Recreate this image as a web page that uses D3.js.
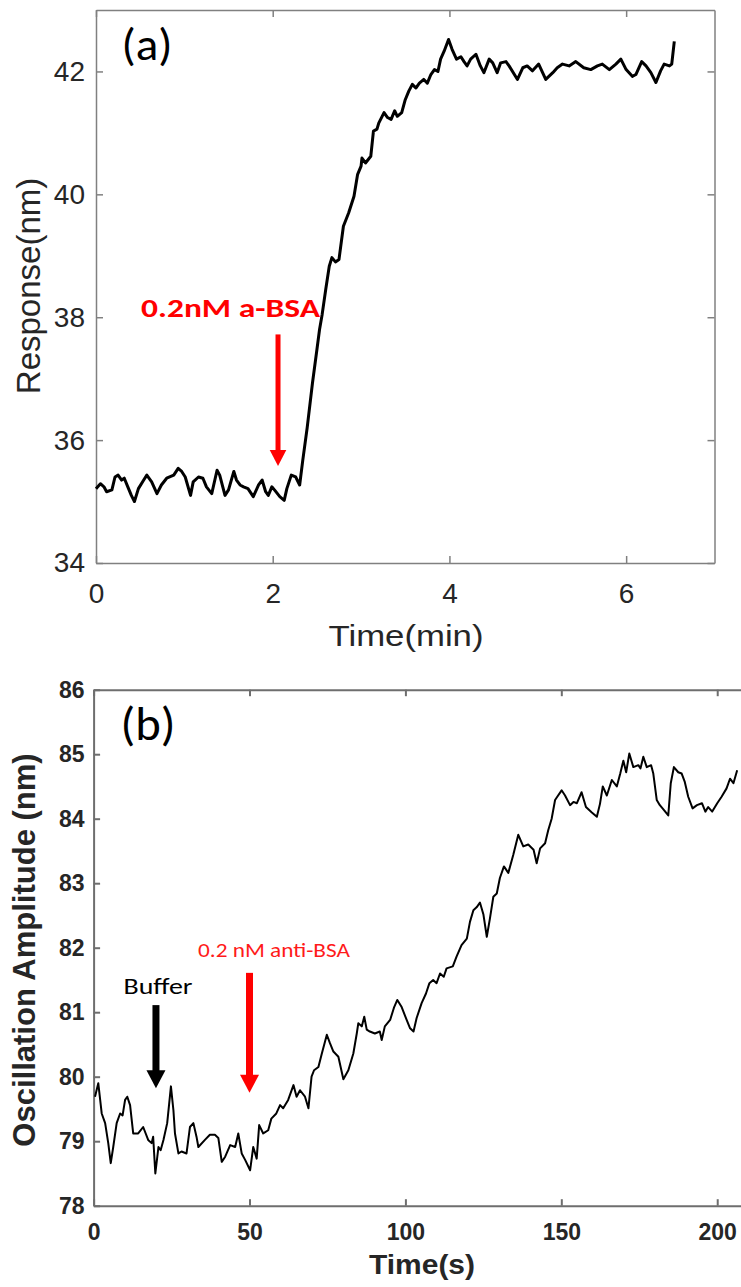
<!DOCTYPE html>
<html>
<head>
<meta charset="utf-8">
<title>Response traces</title>
<script src="https://cdn.jsdelivr.net/npm/d3@7"></script>
<style>
  body { margin: 0; background: #fff; }
  svg { display: block; }
</style>
</head>
<body>
<div id="chart"></div>
<script>
// panel (a): time in minutes, response in nm
var timeA = [0.00,0.05,0.09,0.12,0.18,0.215,0.25,0.29,0.32,0.36,0.40,0.435,0.48,0.54,0.575,0.63,0.69,0.74,0.80,0.88,0.93,0.97,1.01,1.07,1.10,1.16,1.21,1.25,1.31,1.37,1.40,1.46,1.50,1.56,1.59,1.63,1.67,1.72,1.78,1.84,1.88,1.92,1.95,1.99,2.02,2.08,2.13,2.16,2.21,2.26,2.305,2.34,2.39,2.45,2.50,2.53,2.56,2.60,2.64,2.67,2.71,2.75,2.80,2.86,2.92,2.96,3.00,3.01,3.05,3.11,3.14,3.18,3.20,3.26,3.30,3.34,3.38,3.41,3.46,3.50,3.54,3.58,3.62,3.66,3.71,3.75,3.79,3.83,3.87,3.90,3.94,3.99,4.03,4.08,4.13,4.165,4.20,4.24,4.30,4.35,4.39,4.45,4.49,4.54,4.58,4.64,4.675,4.77,4.83,4.88,4.94,5.01,5.09,5.17,5.22,5.28,5.355,5.43,5.52,5.60,5.675,5.73,5.81,5.884,5.94,6.00,6.07,6.11,6.176,6.225,6.28,6.337,6.39,6.43,6.49,6.516,6.545];
var respA = [35.21,35.29,35.24,35.16,35.19,35.40,35.43,35.35,35.38,35.24,35.10,35.00,35.21,35.35,35.43,35.32,35.13,35.27,35.38,35.43,35.54,35.49,35.40,35.10,35.32,35.40,35.38,35.24,35.13,35.51,35.43,35.10,35.19,35.49,35.35,35.27,35.24,35.21,35.08,35.27,35.35,35.16,35.10,35.24,35.19,35.08,35.02,35.21,35.43,35.40,35.27,35.67,36.20,36.93,37.47,37.80,38.05,38.45,38.83,38.97,38.90,38.94,39.48,39.70,39.97,40.32,40.46,40.59,40.51,40.62,41.03,41.06,41.16,41.33,41.25,41.22,41.36,41.27,41.33,41.54,41.68,41.79,41.73,41.81,41.87,41.81,41.95,42.03,42.00,42.20,42.33,42.52,42.36,42.20,42.24,42.16,42.09,42.20,42.28,42.09,41.98,42.20,42.14,41.98,42.14,42.16,42.09,41.87,42.06,42.09,42.01,42.12,41.87,41.98,42.06,42.12,42.09,42.16,42.06,42.03,42.09,42.12,42.03,42.12,42.20,42.03,41.92,41.95,42.16,42.09,41.98,41.82,42.01,42.12,42.09,42.12,42.49];
var ticksAx = [0, 2, 4, 6];
var ticksAy = [34, 36, 38, 40, 42];

// panel (b): time in seconds, oscillation amplitude in nm
var timeB = [0.45,1.5,2.6,3.7,4.7,5.5,6.3,7.4,8.5,9.3,10.1,10.8,11.7,12.7,14.3,15.9,17.5,18.6,19.1,19.8,20.8,21.5,22.4,23.6,24.8,25.6,26.1,27.2,28.2,29.8,30.9,32,33,33.6,35.7,37.3,38.9,40,41.1,42.2,43.8,45.4,46.4,47.5,48.6,50.2,51.2,52.3,53.1,54.4,56,57,58.6,59.8,60.8,62.4,64.1,65.1,66.2,67.8,68.9,69.9,70.7,72.1,73.2,74.8,75.8,76.9,78.5,80.1,81.7,83.3,84.4,84.9,86,86.8,87.6,88.6,90.2,91.8,92.4,93.4,95.1,96.4,97.4,98.8,100.4,101.5,102.6,103.6,105.2,106.6,107.7,108.9,110,111.1,112.3,113.2,115.2,116.4,118,119.7,120.7,121.8,122.9,123.9,125,126.1,127.1,128.2,129.3,130.3,131.6,133,134.6,136.2,137.8,139.4,141.1,142.1,143.2,144.8,145.8,146.9,148,148.7,150.1,151.2,152.8,153.9,155,156.5,157.9,159.7,161.4,162.4,163.3,164.6,166.2,167.8,168.9,169.9,170.8,171.8,173.1,174.7,175.4,176.3,177.4,178.8,179.5,180.6,181.6,183,184.3,185.1,186.1,187.5,188.6,189.6,190.7,192.1,193.5,195.1,196.2,197.1,198.4,200,201.4,203,204.1,205.2,206.4];
var ampB = [79.69,79.9,79.43,79.28,78.97,78.66,78.91,79.28,79.43,79.4,79.64,79.69,79.56,79.12,79.12,79.22,79.02,78.97,79.07,78.5,78.91,78.86,79.02,79.28,79.85,79.48,79.12,78.81,78.84,78.81,79.22,79.28,79.07,78.91,79.02,79.1,79.1,79.05,78.68,78.76,78.94,78.91,79.12,78.81,78.71,78.55,78.91,78.73,79.25,79.12,79.17,79.35,79.43,79.56,79.51,79.64,79.87,79.69,79.79,79.69,79.51,80.0,80.1,80.15,80.36,80.65,80.52,80.39,80.31,79.96,80.1,80.36,80.67,80.83,80.78,80.93,80.73,80.7,80.67,80.7,80.57,80.78,80.88,81.08,81.19,81.08,80.88,80.75,80.7,80.91,81.14,81.29,81.45,81.5,81.45,81.6,81.55,81.68,81.71,81.86,82.04,82.14,82.4,82.58,82.63,82.7,82.52,82.17,82.45,82.79,82.84,83.08,83.26,83.16,83.44,83.75,83.57,83.6,83.52,83.31,83.54,83.62,83.82,84.0,84.29,84.34,84.44,84.36,84.21,84.26,84.24,84.41,84.18,84.1,84.03,84.23,84.5,84.36,84.6,84.5,84.7,84.9,84.72,85.01,84.8,84.83,84.78,84.96,84.8,84.83,84.7,84.29,84.21,84.13,84.05,84.55,84.8,84.72,84.7,84.57,84.34,84.16,84.21,84.24,84.11,84.18,84.11,84.24,84.34,84.47,84.62,84.55,84.75];
var ticksBx = [0, 50, 100, 150, 200];
var ticksBy = [78, 79, 80, 81, 82, 83, 84, 85, 86];

var width = 741, height = 1287;
var sans = "'Liberation Sans', Arial, sans-serif";
var calibri = "Carlito, Calibri, Lato, sans-serif";

var svg = d3.select("#chart").append("svg")
  .attr("width", width)
  .attr("height", height);

// builds the four sides of a matlab-style box with inward ticks
function drawBox(x, y, xt, yt, o) {
  var r = x.range(), b = y.range();
  var fmt = d3.format("d");
  var blank = function () { return ""; };
  var g = svg.append("g");
  g.append("g").attr("transform", "translate(0," + b[0] + ")")
    .call(d3.axisBottom(x).tickValues(xt).tickFormat(fmt).tickSizeInner(-o.tick).tickSizeOuter(0).tickPadding(o.padX));
  g.append("g").attr("transform", "translate(0," + b[1] + ")")
    .call(d3.axisTop(x).tickValues(xt).tickSizeInner(-o.tick).tickSizeOuter(0).tickFormat(blank));
  g.append("g").attr("transform", "translate(" + r[0] + ",0)")
    .call(d3.axisLeft(y).tickValues(yt).tickFormat(fmt).tickSizeInner(-o.tick).tickSizeOuter(0).tickPadding(o.padY));
  g.append("g").attr("transform", "translate(" + r[1] + ",0)")
    .call(d3.axisRight(y).tickValues(yt).tickSizeInner(-o.tick).tickSizeOuter(0).tickFormat(blank));
  g.selectAll(".domain, .tick line")
    .attr("stroke", o.lineColor)
    .attr("stroke-width", o.lineWidth);
  g.selectAll("g").attr("font-family", sans).attr("font-size", o.fontSize);
  g.selectAll(".tick text")
    .attr("fill", "#262626")
    .attr("font-weight", o.bold ? "bold" : "normal");
  return g;
}

function arrow(x, y0, y1, color, shaft, headW, headH) {
  svg.append("line")
    .attr("x1", x).attr("x2", x)
    .attr("y1", y0).attr("y2", y1 - headH + 1)
    .attr("stroke", color).attr("stroke-width", shaft);
  svg.append("path")
    .attr("d", "M" + (x - headW) + "," + (y1 - headH) + "L" + (x + headW) + "," + (y1 - headH) + "L" + x + "," + y1 + "Z")
    .attr("fill", color);
}

// text in the calibri-like face, stretched a little to the width seen in the figure
function note(x, y, str, size, color, bold, len) {
  var t = svg.append("text")
    .attr("x", x).attr("y", y)
    .attr("text-anchor", "middle")
    .attr("font-family", calibri).attr("font-size", size)
    .attr("font-weight", bold ? "bold" : "normal")
    .attr("fill", color)
    .text(str);
  if (len) t.attr("textLength", len).attr("lengthAdjust", "spacingAndGlyphs");
  return t;
}

// ---------- panel (a)
var xA = d3.scaleLinear().domain([0, 7]).range([96, 714.5]);
var yA = d3.scaleLinear().domain([34, 43]).range([563, 10]);

drawBox(xA, yA, ticksAx, ticksAy, {
  tick: 7, padX: 20, padY: 11, lineColor: "#808080", lineWidth: 1.5, fontSize: 28, bold: false
});

svg.append("path")
  .datum(d3.zip(timeA, respA))
  .attr("fill", "none")
  .attr("stroke", "#000")
  .attr("stroke-width", 3)
  .attr("stroke-linejoin", "round")
  .attr("d", d3.line().x(function (d) { return xA(d[0]); }).y(function (d) { return yA(d[1]); }));

svg.append("text")
  .attr("x", 406).attr("y", 646)
  .attr("text-anchor", "middle")
  .attr("font-family", sans).attr("font-size", 30).attr("fill", "#262626")
  .attr("textLength", 155).attr("lengthAdjust", "spacingAndGlyphs")
  .text("Time(min)");

svg.append("text")
  .attr("transform", "translate(40,286) rotate(-90)")
  .attr("text-anchor", "middle")
  .attr("font-family", sans).attr("font-size", 33).attr("fill", "#262626")
  .text("Response(nm)");

note(147, 60, "(a)", 46, "#000", false, 51);
note(230.5, 317, "0.2nM a-BSA", 27, "#ff0000", true, 179);

arrow(xA(2.06), yA(37.72), yA(35.58), "#ff0000", 5, 8.3, 16);

// ---------- panel (b)
var xB = d3.scaleLinear().domain([0, 210]).range([93.6, 748.4]);
var yB = d3.scaleLinear().domain([78, 86]).range([1205.7, 689.7]);

drawBox(xB, yB, ticksBx, ticksBy, {
  tick: 6.5, padX: 18, padY: 9, lineColor: "#6e6e6e", lineWidth: 2, fontSize: 23, bold: true
});

svg.append("path")
  .datum(d3.zip(timeB, ampB))
  .attr("fill", "none")
  .attr("stroke", "#000")
  .attr("stroke-width", 2)
  .attr("stroke-linejoin", "round")
  .attr("d", d3.line().x(function (d) { return xB(d[0]); }).y(function (d) { return yB(d[1]); }));

svg.append("text")
  .attr("x", 422).attr("y", 1274)
  .attr("text-anchor", "middle")
  .attr("font-family", sans).attr("font-size", 28).attr("font-weight", "bold").attr("fill", "#262626")
  .attr("textLength", 106).attr("lengthAdjust", "spacingAndGlyphs")
  .text("Time(s)");

svg.append("text")
  .attr("transform", "translate(35,950) rotate(-90)")
  .attr("text-anchor", "middle")
  .attr("font-family", sans).attr("font-size", 31).attr("font-weight", "bold").attr("fill", "#262626")
  .text("Oscillation Amplitude (nm)");

note(148, 740, "(b)", 47, "#000", false, 55);
note(158, 994, "Buffer", 22, "#000", false, 69);
note(274, 957, "0.2 nM anti-BSA", 21, "#ff1a1a", false, 152);

arrow(xB(20), yB(81.11), yB(79.82), "#000", 7, 9.5, 18);
arrow(xB(50), yB(81.61), yB(79.75), "#ff0000", 7, 9.5, 18);
</script>
</body>
</html>
